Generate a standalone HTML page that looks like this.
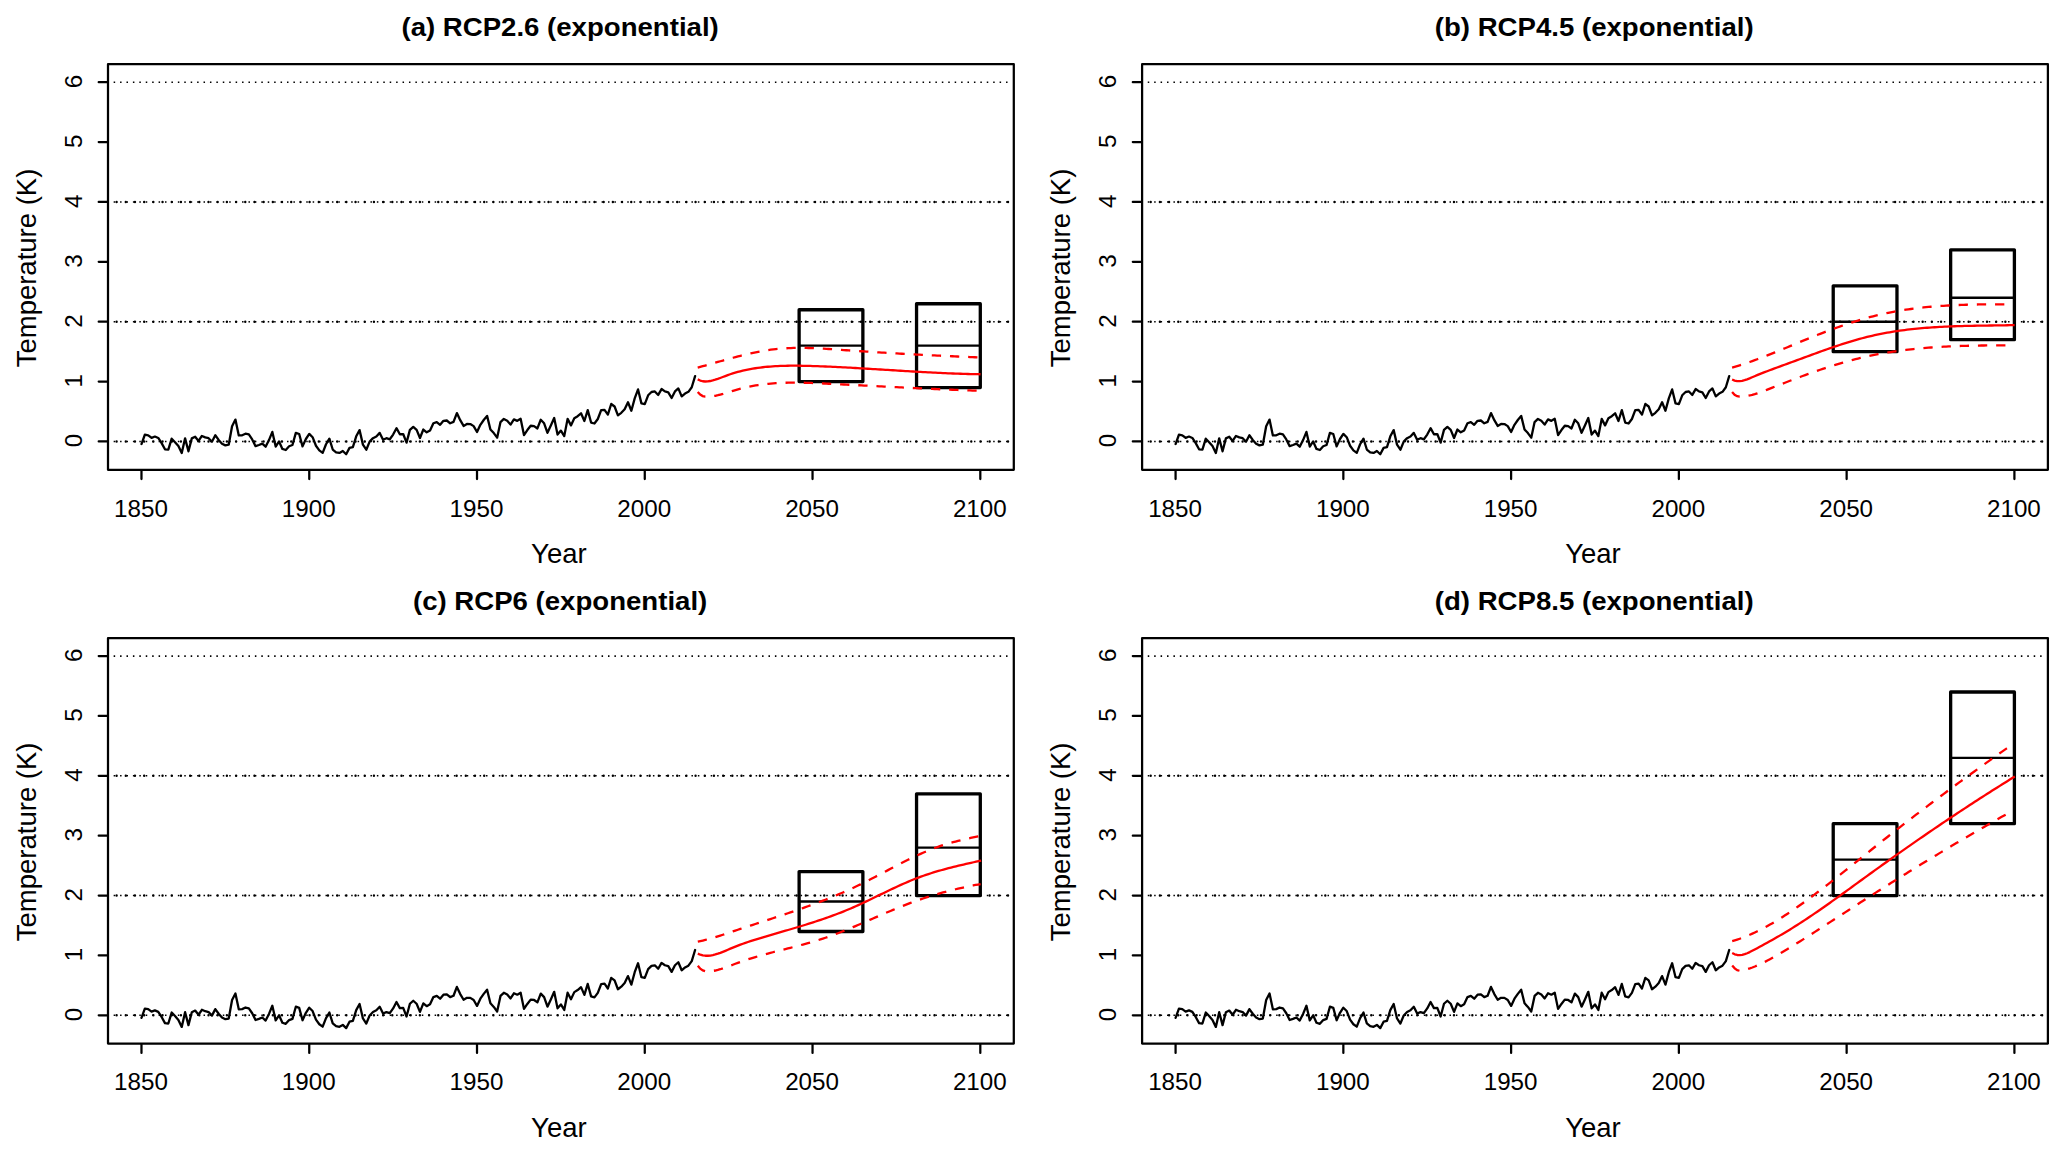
<!DOCTYPE html>
<html><head><meta charset="utf-8"><title>RCP temperature projections</title>
<style>
html,body{margin:0;padding:0;background:#fff}
svg{display:block}
text{font-family:"Liberation Sans",Arial,Helvetica,sans-serif;fill:#000}
.t{font-weight:bold;font-size:27.60px;text-anchor:middle}
.l{font-size:27.50px;text-anchor:middle}
.k{font-size:24.20px;text-anchor:middle}
.ax{stroke:#000;stroke-width:2.25;fill:none;stroke-linecap:round;stroke-linejoin:round}
.ts{stroke:#000;stroke-width:2.3;fill:none;stroke-linecap:round;stroke-linejoin:round}
.d1{stroke:#000;stroke-width:1.6;stroke-dasharray:1.5 4.92;fill:none}
.d2{stroke:#000;stroke-width:2.4;stroke-dasharray:0.01 9.18;stroke-linecap:round;fill:none}
.rc{stroke:#f00;stroke-width:2.3;fill:none;stroke-linecap:butt;stroke-linejoin:round}
.rd{stroke:#f00;stroke-width:2.3;fill:none;stroke-dasharray:9.3 8.9}
.bx{stroke:#000;stroke-width:3.3;fill:none;stroke-linejoin:round}
.bm{stroke:#000;stroke-width:2.4;fill:none}
</style></head><body>
<svg width="2067" height="1155" viewBox="0 0 2067 1155">
<rect width="2067" height="1155" fill="#fff"/>
<g transform="translate(0,0)">
<text class="t" transform="translate(560.10,36.1) scale(1,0.957)">(a) RCP2.6 (exponential)</text>
<text class="l" x="558.90" y="563.1">Year</text>
<text class="l" transform="translate(36.1,267.98) rotate(-90)">Temperature (K)</text>
<text class="k" x="140.98" y="516.6">1850</text>
<text class="k" x="308.75" y="516.6">1900</text>
<text class="k" x="476.51" y="516.6">1950</text>
<text class="k" x="644.27" y="516.6">2000</text>
<text class="k" x="812.04" y="516.6">2050</text>
<text class="k" x="979.81" y="516.6">2100</text>
<text class="k" transform="translate(82.2,440.65) rotate(-90)">0</text>
<text class="k" transform="translate(82.2,380.78) rotate(-90)">1</text>
<text class="k" transform="translate(82.2,320.91) rotate(-90)">2</text>
<text class="k" transform="translate(82.2,261.04) rotate(-90)">3</text>
<text class="k" transform="translate(82.2,201.17) rotate(-90)">4</text>
<text class="k" transform="translate(82.2,141.30) rotate(-90)">5</text>
<text class="k" transform="translate(82.2,81.43) rotate(-90)">6</text>
<path class="ax" d="M141.48,470.35v8.7M309.25,470.35v8.7M477.01,470.35v8.7M644.77,470.35v8.7M812.54,470.35v8.7M980.31,470.35v8.7M107.4,441.45h-8.7M107.4,381.58h-8.7M107.4,321.71h-8.7M107.4,261.84h-8.7M107.4,201.97h-8.7M107.4,142.10h-8.7M107.4,82.23h-8.7"/>
<path class="d1" d="M113.65,441.45H1010.1999999999999"/>
<path class="d1" d="M113.65,321.71H1010.1999999999999"/>
<path class="d1" d="M113.65,201.97H1010.1999999999999"/>
<path class="d1" d="M113.65,82.23H1010.1999999999999"/>
<path class="d2" d="M116.6,441.45H1010.1999999999999"/>
<path class="d2" d="M116.6,321.71H1010.1999999999999"/>
<path class="d2" d="M116.6,201.97H1010.1999999999999"/>
<polyline class="ts" points="141.48,444.02 144.84,434.74 148.19,435.34 151.55,437.80 154.90,436.54 158.26,437.98 161.61,443.13 164.97,449.29 168.32,449.65 171.68,438.70 175.03,442.23 178.39,446.06 181.74,453.06 185.10,438.34 188.45,451.27 191.81,438.40 195.16,436.72 198.52,440.91 201.88,435.94 205.23,437.38 208.59,438.22 211.94,441.75 215.30,435.28 218.65,439.89 222.01,443.73 225.36,445.34 228.72,444.68 232.07,426.18 235.43,419.60 238.78,435.46 242.14,435.28 245.49,433.67 248.85,434.45 252.20,439.41 255.56,446.18 258.92,444.98 262.27,443.67 265.63,446.72 268.98,440.07 272.34,431.93 275.69,446.60 279.05,441.45 282.40,448.93 285.76,450.01 289.11,446.24 292.47,445.04 295.82,432.83 299.18,434.03 302.53,446.36 305.89,439.00 309.25,433.85 312.60,437.20 315.96,445.76 319.31,450.37 322.67,452.83 326.02,444.26 329.38,438.64 332.73,449.53 336.09,452.29 339.44,452.95 342.80,451.03 346.15,454.26 349.51,447.86 352.86,447.08 356.22,436.30 359.57,430.13 362.93,444.62 366.29,449.71 369.64,441.63 373.00,438.16 376.35,436.48 379.71,432.89 383.06,439.77 386.42,438.22 389.77,439.29 393.13,434.56 396.48,428.16 399.84,434.27 403.19,434.03 406.55,442.65 409.90,429.90 413.26,426.90 416.61,429.90 419.97,438.04 423.33,429.54 426.68,432.35 430.04,430.49 433.39,423.25 436.75,422.05 440.10,424.81 443.46,420.85 446.81,420.50 450.17,423.31 453.52,421.93 456.88,413.07 460.23,420.20 463.59,425.94 466.94,423.97 470.30,424.03 473.65,426.12 477.01,432.05 480.37,424.81 483.72,420.02 487.08,415.89 490.43,429.42 493.79,433.07 497.14,437.68 500.50,422.11 503.85,418.94 507.21,420.68 510.56,424.63 513.92,419.42 517.27,420.85 520.63,418.82 523.98,435.04 527.34,430.07 530.69,425.76 534.05,426.12 537.41,428.46 540.76,419.78 544.12,423.31 547.47,432.83 550.83,425.58 554.18,417.98 557.54,434.51 560.89,430.61 564.25,436.12 567.60,418.88 570.96,425.40 574.31,418.28 577.67,416.18 581.02,413.31 584.38,421.03 587.73,410.08 591.09,422.53 594.45,423.49 597.80,419.00 601.16,410.20 604.51,409.84 607.87,414.63 611.22,403.97 614.58,406.49 617.93,415.41 621.29,412.83 624.64,409.24 628.00,402.24 631.35,410.74 634.71,398.34 638.06,389.42 641.42,403.37 644.77,404.09 648.13,395.29 651.49,392.00 654.84,391.46 658.20,394.93 661.55,389.06 664.91,391.40 668.26,392.30 671.62,398.04 674.97,391.40 678.33,388.41 681.68,396.43 685.04,393.55 688.39,391.82 691.75,387.27 695.10,376.19"/>
<rect class="bx" x="799.12" y="309.74" width="63.75" height="71.84"/>
<path class="bm" d="M799.12,345.66H862.87"/>
<rect class="bx" x="916.55" y="303.75" width="63.75" height="83.82"/>
<path class="bm" d="M916.55,345.66H980.31"/>
</g>
<path class="rc" d="M697.70,379.41L700.20,380.57L702.71,381.24L705.21,381.49L707.71,381.39L710.21,381.01L712.72,380.42L715.22,379.69L717.72,378.86L720.22,377.96L722.73,377.02L725.23,376.07L727.73,375.14L730.23,374.25L732.74,373.43L735.24,372.66L737.74,371.94L740.25,371.27L742.75,370.66L745.25,370.09L747.75,369.56L750.26,369.08L752.76,368.64L755.26,368.24L757.76,367.88L760.27,367.55L762.77,367.25L765.27,366.98L767.77,366.74L770.28,366.53L772.78,366.35L775.28,366.19L777.78,366.05L780.29,365.94L782.79,365.86L785.29,365.79L787.80,365.74L790.30,365.71L792.80,365.70L795.30,365.70L797.81,365.72L800.31,365.75L802.81,365.79L805.31,365.84L807.82,365.90L810.32,365.97L812.82,366.05L815.32,366.13L817.83,366.22L820.33,366.31L822.83,366.41L825.34,366.51L827.84,366.61L830.34,366.72L832.84,366.83L835.35,366.95L837.85,367.07L840.35,367.19L842.85,367.32L845.36,367.45L847.86,367.58L850.36,367.72L852.86,367.86L855.37,368.00L857.87,368.14L860.37,368.29L862.88,368.43L865.38,368.58L867.88,368.73L870.38,368.88L872.89,369.03L875.39,369.19L877.89,369.34L880.39,369.49L882.90,369.65L885.40,369.80L887.90,369.96L890.40,370.12L892.91,370.27L895.41,370.43L897.91,370.58L900.42,370.73L902.92,370.89L905.42,371.04L907.92,371.19L910.43,371.34L912.93,371.49L915.43,371.63L917.93,371.78L920.44,371.92L922.94,372.06L925.44,372.19L927.94,372.33L930.45,372.46L932.95,372.59L935.45,372.72L937.95,372.84L940.46,372.96L942.96,373.07L945.46,373.18L947.97,373.29L950.47,373.40L952.97,373.50L955.47,373.59L957.98,373.68L960.48,373.77L962.98,373.85L965.48,373.92L967.99,373.99L970.49,374.06L972.99,374.11L975.49,374.17L978.00,374.21L980.50,374.26"/>
<path class="rd" d="M697.70,367.60L700.22,366.92L702.74,366.22L705.26,365.52L707.78,364.81L710.30,364.10L712.82,363.39L715.34,362.67L717.86,361.96L720.38,361.24L722.91,360.53L725.43,359.83L727.95,359.13L730.47,358.44L732.99,357.76L735.51,357.09L738.03,356.43L740.55,355.79L743.07,355.16L745.59,354.55L748.11,353.96L750.63,353.38L753.15,352.83L755.67,352.31L758.19,351.80L760.71,351.33L763.23,350.88L765.75,350.46L768.28,350.07L770.80,349.71L773.32,349.39L775.84,349.10L778.36,348.85L780.88,348.63L783.40,348.44L785.92,348.28L788.44,348.15L790.96,348.05L793.48,347.97L796.00,347.92L798.52,347.90L801.04,347.90L803.56,347.91L806.08,347.95L808.60,348.01L811.12,348.08L813.64,348.17L816.17,348.28L818.69,348.40L821.21,348.53L823.73,348.67L826.25,348.82L828.77,348.98L831.29,349.15L833.81,349.32L836.33,349.50L838.85,349.68L841.37,349.86L843.89,350.04L846.41,350.23L848.93,350.41L851.45,350.58L853.97,350.76L856.49,350.93L859.01,351.10L861.53,351.27L864.06,351.44L866.58,351.61L869.10,351.77L871.62,351.93L874.14,352.09L876.66,352.25L879.18,352.40L881.70,352.56L884.22,352.71L886.74,352.86L889.26,353.01L891.78,353.16L894.30,353.30L896.82,353.45L899.34,353.59L901.86,353.73L904.38,353.87L906.90,354.01L909.42,354.14L911.95,354.28L914.47,354.41L916.99,354.54L919.51,354.67L922.03,354.80L924.55,354.93L927.07,355.06L929.59,355.18L932.11,355.31L934.63,355.43L937.15,355.55L939.67,355.67L942.19,355.79L944.71,355.91L947.23,356.03L949.75,356.15L952.27,356.26L954.79,356.38L957.32,356.49L959.84,356.60L962.36,356.72L964.88,356.83L967.40,356.94L969.92,357.05L972.44,357.16L974.96,357.26L977.48,357.37L980.00,357.48"/>
<path class="rd" d="M697.70,391.94L700.22,394.62L702.74,396.07L705.26,396.65L707.78,396.70L710.30,396.52L712.82,396.21L715.34,395.77L717.86,395.22L720.38,394.59L722.91,393.90L725.43,393.15L727.95,392.37L730.47,391.58L732.99,390.79L735.51,390.03L738.03,389.30L740.55,388.62L743.07,387.98L745.59,387.39L748.11,386.84L750.63,386.33L753.15,385.86L755.67,385.42L758.19,385.02L760.71,384.66L763.23,384.34L765.75,384.04L768.28,383.78L770.80,383.55L773.32,383.35L775.84,383.17L778.36,383.02L780.88,382.90L783.40,382.80L785.92,382.73L788.44,382.68L790.96,382.64L793.48,382.63L796.00,382.63L798.52,382.65L801.04,382.69L803.56,382.74L806.08,382.81L808.60,382.88L811.12,382.97L813.64,383.06L816.17,383.16L818.69,383.27L821.21,383.39L823.73,383.51L826.25,383.63L828.77,383.75L831.29,383.87L833.81,384.00L836.33,384.12L838.85,384.25L841.37,384.38L843.89,384.50L846.41,384.63L848.93,384.76L851.45,384.89L853.97,385.02L856.49,385.15L859.01,385.27L861.53,385.40L864.06,385.53L866.58,385.66L869.10,385.79L871.62,385.92L874.14,386.05L876.66,386.18L879.18,386.31L881.70,386.44L884.22,386.57L886.74,386.70L889.26,386.83L891.78,386.95L894.30,387.08L896.82,387.21L899.34,387.33L901.86,387.46L904.38,387.58L906.90,387.71L909.42,387.83L911.95,387.95L914.47,388.08L916.99,388.20L919.51,388.32L922.03,388.44L924.55,388.55L927.07,388.67L929.59,388.79L932.11,388.90L934.63,389.01L937.15,389.13L939.67,389.24L942.19,389.35L944.71,389.45L947.23,389.56L949.75,389.66L952.27,389.77L954.79,389.87L957.32,389.97L959.84,390.07L962.36,390.16L964.88,390.26L967.40,390.35L969.92,390.44L972.44,390.53L974.96,390.61L977.48,390.70L980.00,390.78"/>
<g transform="translate(0,0)">
<rect class="ax" x="108.0" y="64.2" width="905.80" height="405.55"/>
</g>
<g transform="translate(1034.1,0)">
<text class="t" transform="translate(560.10,36.1) scale(1,0.957)">(b) RCP4.5 (exponential)</text>
<text class="l" x="558.90" y="563.1">Year</text>
<text class="l" transform="translate(36.1,267.98) rotate(-90)">Temperature (K)</text>
<text class="k" x="140.98" y="516.6">1850</text>
<text class="k" x="308.75" y="516.6">1900</text>
<text class="k" x="476.51" y="516.6">1950</text>
<text class="k" x="644.27" y="516.6">2000</text>
<text class="k" x="812.04" y="516.6">2050</text>
<text class="k" x="979.81" y="516.6">2100</text>
<text class="k" transform="translate(82.2,440.65) rotate(-90)">0</text>
<text class="k" transform="translate(82.2,380.78) rotate(-90)">1</text>
<text class="k" transform="translate(82.2,320.91) rotate(-90)">2</text>
<text class="k" transform="translate(82.2,261.04) rotate(-90)">3</text>
<text class="k" transform="translate(82.2,201.17) rotate(-90)">4</text>
<text class="k" transform="translate(82.2,141.30) rotate(-90)">5</text>
<text class="k" transform="translate(82.2,81.43) rotate(-90)">6</text>
<path class="ax" d="M141.48,470.35v8.7M309.25,470.35v8.7M477.01,470.35v8.7M644.77,470.35v8.7M812.54,470.35v8.7M980.31,470.35v8.7M107.4,441.45h-8.7M107.4,381.58h-8.7M107.4,321.71h-8.7M107.4,261.84h-8.7M107.4,201.97h-8.7M107.4,142.10h-8.7M107.4,82.23h-8.7"/>
<path class="d1" d="M113.65,441.45H1010.1999999999999"/>
<path class="d1" d="M113.65,321.71H1010.1999999999999"/>
<path class="d1" d="M113.65,201.97H1010.1999999999999"/>
<path class="d1" d="M113.65,82.23H1010.1999999999999"/>
<path class="d2" d="M116.6,441.45H1010.1999999999999"/>
<path class="d2" d="M116.6,321.71H1010.1999999999999"/>
<path class="d2" d="M116.6,201.97H1010.1999999999999"/>
<polyline class="ts" points="141.48,444.02 144.84,434.74 148.19,435.34 151.55,437.80 154.90,436.54 158.26,437.98 161.61,443.13 164.97,449.29 168.32,449.65 171.68,438.70 175.03,442.23 178.39,446.06 181.74,453.06 185.10,438.34 188.45,451.27 191.81,438.40 195.16,436.72 198.52,440.91 201.88,435.94 205.23,437.38 208.59,438.22 211.94,441.75 215.30,435.28 218.65,439.89 222.01,443.73 225.36,445.34 228.72,444.68 232.07,426.18 235.43,419.60 238.78,435.46 242.14,435.28 245.49,433.67 248.85,434.45 252.20,439.41 255.56,446.18 258.92,444.98 262.27,443.67 265.63,446.72 268.98,440.07 272.34,431.93 275.69,446.60 279.05,441.45 282.40,448.93 285.76,450.01 289.11,446.24 292.47,445.04 295.82,432.83 299.18,434.03 302.53,446.36 305.89,439.00 309.25,433.85 312.60,437.20 315.96,445.76 319.31,450.37 322.67,452.83 326.02,444.26 329.38,438.64 332.73,449.53 336.09,452.29 339.44,452.95 342.80,451.03 346.15,454.26 349.51,447.86 352.86,447.08 356.22,436.30 359.57,430.13 362.93,444.62 366.29,449.71 369.64,441.63 373.00,438.16 376.35,436.48 379.71,432.89 383.06,439.77 386.42,438.22 389.77,439.29 393.13,434.56 396.48,428.16 399.84,434.27 403.19,434.03 406.55,442.65 409.90,429.90 413.26,426.90 416.61,429.90 419.97,438.04 423.33,429.54 426.68,432.35 430.04,430.49 433.39,423.25 436.75,422.05 440.10,424.81 443.46,420.85 446.81,420.50 450.17,423.31 453.52,421.93 456.88,413.07 460.23,420.20 463.59,425.94 466.94,423.97 470.30,424.03 473.65,426.12 477.01,432.05 480.37,424.81 483.72,420.02 487.08,415.89 490.43,429.42 493.79,433.07 497.14,437.68 500.50,422.11 503.85,418.94 507.21,420.68 510.56,424.63 513.92,419.42 517.27,420.85 520.63,418.82 523.98,435.04 527.34,430.07 530.69,425.76 534.05,426.12 537.41,428.46 540.76,419.78 544.12,423.31 547.47,432.83 550.83,425.58 554.18,417.98 557.54,434.51 560.89,430.61 564.25,436.12 567.60,418.88 570.96,425.40 574.31,418.28 577.67,416.18 581.02,413.31 584.38,421.03 587.73,410.08 591.09,422.53 594.45,423.49 597.80,419.00 601.16,410.20 604.51,409.84 607.87,414.63 611.22,403.97 614.58,406.49 617.93,415.41 621.29,412.83 624.64,409.24 628.00,402.24 631.35,410.74 634.71,398.34 638.06,389.42 641.42,403.37 644.77,404.09 648.13,395.29 651.49,392.00 654.84,391.46 658.20,394.93 661.55,389.06 664.91,391.40 668.26,392.30 671.62,398.04 674.97,391.40 678.33,388.41 681.68,396.43 685.04,393.55 688.39,391.82 691.75,387.27 695.10,376.19"/>
<rect class="bx" x="799.12" y="285.79" width="63.75" height="65.86"/>
<path class="bm" d="M799.12,321.71H862.87"/>
<rect class="bx" x="916.55" y="249.87" width="63.75" height="89.81"/>
<path class="bm" d="M916.55,297.76H980.31"/>
</g>
<path class="rc" d="M1732.10,379.56L1734.60,380.66L1737.10,381.17L1739.60,381.20L1742.10,380.84L1744.60,380.18L1747.10,379.33L1749.60,378.35L1752.10,377.30L1754.60,376.23L1757.10,375.18L1759.60,374.15L1762.10,373.15L1764.60,372.16L1767.10,371.20L1769.60,370.25L1772.10,369.31L1774.60,368.39L1777.10,367.47L1779.60,366.56L1782.10,365.66L1784.60,364.75L1787.10,363.85L1789.60,362.94L1792.10,362.03L1794.60,361.12L1797.10,360.20L1799.60,359.28L1802.10,358.35L1804.60,357.43L1807.10,356.51L1809.60,355.59L1812.10,354.67L1814.60,353.76L1817.10,352.85L1819.60,351.94L1822.10,351.04L1824.60,350.15L1827.10,349.27L1829.60,348.39L1832.10,347.53L1834.60,346.67L1837.10,345.83L1839.60,345.00L1842.10,344.18L1844.60,343.38L1847.10,342.59L1849.60,341.82L1852.10,341.07L1854.60,340.33L1857.10,339.61L1859.60,338.91L1862.10,338.24L1864.60,337.58L1867.10,336.95L1869.60,336.34L1872.10,335.76L1874.60,335.19L1877.10,334.65L1879.60,334.13L1882.10,333.63L1884.60,333.16L1887.10,332.70L1889.60,332.26L1892.10,331.84L1894.60,331.44L1897.10,331.06L1899.60,330.70L1902.10,330.35L1904.60,330.03L1907.10,329.71L1909.60,329.42L1912.10,329.14L1914.60,328.87L1917.10,328.62L1919.60,328.38L1922.10,328.16L1924.60,327.95L1927.10,327.75L1929.60,327.56L1932.10,327.39L1934.60,327.23L1937.10,327.07L1939.60,326.93L1942.10,326.80L1944.60,326.68L1947.10,326.56L1949.60,326.46L1952.10,326.36L1954.60,326.27L1957.10,326.19L1959.60,326.11L1962.10,326.04L1964.60,325.97L1967.10,325.91L1969.60,325.85L1972.10,325.80L1974.60,325.75L1977.10,325.71L1979.60,325.67L1982.10,325.63L1984.60,325.59L1987.10,325.55L1989.60,325.51L1992.10,325.48L1994.60,325.44L1997.10,325.40L1999.60,325.36L2002.10,325.32L2004.60,325.28L2007.10,325.23L2009.60,325.19L2012.10,325.13L2014.60,325.08"/>
<path class="rd" d="M1732.10,367.53L1734.62,366.82L1737.14,366.08L1739.65,365.31L1742.17,364.52L1744.69,363.70L1747.21,362.86L1749.72,361.99L1752.24,361.11L1754.76,360.20L1757.28,359.28L1759.80,358.34L1762.31,357.38L1764.83,356.41L1767.35,355.42L1769.87,354.42L1772.39,353.41L1774.90,352.39L1777.42,351.36L1779.94,350.33L1782.46,349.29L1784.97,348.24L1787.49,347.19L1790.01,346.14L1792.53,345.09L1795.05,344.04L1797.56,342.99L1800.08,341.95L1802.60,340.90L1805.12,339.87L1807.64,338.84L1810.15,337.81L1812.67,336.80L1815.19,335.79L1817.71,334.80L1820.22,333.81L1822.74,332.83L1825.26,331.86L1827.78,330.91L1830.30,329.96L1832.81,329.03L1835.33,328.11L1837.85,327.21L1840.37,326.32L1842.89,325.44L1845.40,324.58L1847.92,323.74L1850.44,322.91L1852.96,322.10L1855.47,321.31L1857.99,320.53L1860.51,319.77L1863.03,319.04L1865.55,318.32L1868.06,317.63L1870.58,316.95L1873.10,316.30L1875.62,315.67L1878.14,315.06L1880.65,314.47L1883.17,313.91L1885.69,313.37L1888.21,312.84L1890.72,312.34L1893.24,311.86L1895.76,311.39L1898.28,310.95L1900.80,310.53L1903.31,310.12L1905.83,309.73L1908.35,309.36L1910.87,309.00L1913.39,308.67L1915.90,308.35L1918.42,308.04L1920.94,307.75L1923.46,307.48L1925.97,307.22L1928.49,306.97L1931.01,306.74L1933.53,306.52L1936.05,306.32L1938.56,306.13L1941.08,305.95L1943.60,305.78L1946.12,305.62L1948.64,305.48L1951.15,305.34L1953.67,305.22L1956.19,305.10L1958.71,305.00L1961.22,304.90L1963.74,304.82L1966.26,304.74L1968.78,304.67L1971.30,304.60L1973.81,304.55L1976.33,304.50L1978.85,304.45L1981.37,304.42L1983.89,304.39L1986.40,304.36L1988.92,304.34L1991.44,304.32L1993.96,304.31L1996.47,304.29L1998.99,304.29L2001.51,304.28L2004.03,304.28L2006.55,304.28L2009.06,304.28L2011.58,304.28L2013.19,304.29"/>
<path class="rd" d="M1732.10,391.92L1734.62,394.72L1737.14,396.17L1739.65,396.67L1742.17,396.64L1744.69,396.39L1747.21,396.01L1749.72,395.50L1752.24,394.89L1754.76,394.17L1757.28,393.37L1759.80,392.51L1762.31,391.59L1764.83,390.63L1767.35,389.64L1769.87,388.64L1772.39,387.65L1774.90,386.65L1777.42,385.66L1779.94,384.67L1782.46,383.69L1784.97,382.71L1787.49,381.74L1790.01,380.77L1792.53,379.81L1795.05,378.85L1797.56,377.91L1800.08,376.97L1802.60,376.03L1805.12,375.11L1807.64,374.20L1810.15,373.29L1812.67,372.40L1815.19,371.52L1817.71,370.64L1820.22,369.78L1822.74,368.93L1825.26,368.10L1827.78,367.28L1830.30,366.47L1832.81,365.67L1835.33,364.89L1837.85,364.12L1840.37,363.37L1842.89,362.64L1845.40,361.92L1847.92,361.22L1850.44,360.53L1852.96,359.87L1855.47,359.22L1857.99,358.59L1860.51,357.98L1863.03,357.39L1865.55,356.82L1868.06,356.27L1870.58,355.73L1873.10,355.21L1875.62,354.71L1878.14,354.23L1880.65,353.76L1883.17,353.31L1885.69,352.88L1888.21,352.46L1890.72,352.06L1893.24,351.67L1895.76,351.30L1898.28,350.94L1900.80,350.60L1903.31,350.27L1905.83,349.95L1908.35,349.65L1910.87,349.36L1913.39,349.09L1915.90,348.82L1918.42,348.57L1920.94,348.34L1923.46,348.11L1925.97,347.90L1928.49,347.69L1931.01,347.50L1933.53,347.32L1936.05,347.15L1938.56,346.99L1941.08,346.84L1943.60,346.69L1946.12,346.56L1948.64,346.44L1951.15,346.32L1953.67,346.22L1956.19,346.12L1958.71,346.03L1961.22,345.95L1963.74,345.87L1966.26,345.80L1968.78,345.74L1971.30,345.68L1973.81,345.63L1976.33,345.59L1978.85,345.55L1981.37,345.51L1983.89,345.48L1986.40,345.46L1988.92,345.44L1991.44,345.42L1993.96,345.41L1996.47,345.40L1998.99,345.40L2001.51,345.39L2004.03,345.39L2006.55,345.39L2009.06,345.40L2011.58,345.40L2014.10,345.41"/>
<g transform="translate(1034.1,0)">
<rect class="ax" x="108.0" y="64.2" width="905.80" height="405.55"/>
</g>
<g transform="translate(0,573.85)">
<text class="t" transform="translate(560.10,36.1) scale(1,0.957)">(c) RCP6 (exponential)</text>
<text class="l" x="558.90" y="563.1">Year</text>
<text class="l" transform="translate(36.1,267.98) rotate(-90)">Temperature (K)</text>
<text class="k" x="140.98" y="516.6">1850</text>
<text class="k" x="308.75" y="516.6">1900</text>
<text class="k" x="476.51" y="516.6">1950</text>
<text class="k" x="644.27" y="516.6">2000</text>
<text class="k" x="812.04" y="516.6">2050</text>
<text class="k" x="979.81" y="516.6">2100</text>
<text class="k" transform="translate(82.2,440.65) rotate(-90)">0</text>
<text class="k" transform="translate(82.2,380.78) rotate(-90)">1</text>
<text class="k" transform="translate(82.2,320.91) rotate(-90)">2</text>
<text class="k" transform="translate(82.2,261.04) rotate(-90)">3</text>
<text class="k" transform="translate(82.2,201.17) rotate(-90)">4</text>
<text class="k" transform="translate(82.2,141.30) rotate(-90)">5</text>
<text class="k" transform="translate(82.2,81.43) rotate(-90)">6</text>
<path class="ax" d="M141.48,470.35v8.7M309.25,470.35v8.7M477.01,470.35v8.7M644.77,470.35v8.7M812.54,470.35v8.7M980.31,470.35v8.7M107.4,441.45h-8.7M107.4,381.58h-8.7M107.4,321.71h-8.7M107.4,261.84h-8.7M107.4,201.97h-8.7M107.4,142.10h-8.7M107.4,82.23h-8.7"/>
<path class="d1" d="M113.65,441.45H1010.1999999999999"/>
<path class="d1" d="M113.65,321.71H1010.1999999999999"/>
<path class="d1" d="M113.65,201.97H1010.1999999999999"/>
<path class="d1" d="M113.65,82.23H1010.1999999999999"/>
<path class="d2" d="M116.6,441.45H1010.1999999999999"/>
<path class="d2" d="M116.6,321.71H1010.1999999999999"/>
<path class="d2" d="M116.6,201.97H1010.1999999999999"/>
<polyline class="ts" points="141.48,444.02 144.84,434.74 148.19,435.34 151.55,437.80 154.90,436.54 158.26,437.98 161.61,443.13 164.97,449.29 168.32,449.65 171.68,438.70 175.03,442.23 178.39,446.06 181.74,453.06 185.10,438.34 188.45,451.27 191.81,438.40 195.16,436.72 198.52,440.91 201.88,435.94 205.23,437.38 208.59,438.22 211.94,441.75 215.30,435.28 218.65,439.89 222.01,443.73 225.36,445.34 228.72,444.68 232.07,426.18 235.43,419.60 238.78,435.46 242.14,435.28 245.49,433.67 248.85,434.45 252.20,439.41 255.56,446.18 258.92,444.98 262.27,443.67 265.63,446.72 268.98,440.07 272.34,431.93 275.69,446.60 279.05,441.45 282.40,448.93 285.76,450.01 289.11,446.24 292.47,445.04 295.82,432.83 299.18,434.03 302.53,446.36 305.89,439.00 309.25,433.85 312.60,437.20 315.96,445.76 319.31,450.37 322.67,452.83 326.02,444.26 329.38,438.64 332.73,449.53 336.09,452.29 339.44,452.95 342.80,451.03 346.15,454.26 349.51,447.86 352.86,447.08 356.22,436.30 359.57,430.13 362.93,444.62 366.29,449.71 369.64,441.63 373.00,438.16 376.35,436.48 379.71,432.89 383.06,439.77 386.42,438.22 389.77,439.29 393.13,434.56 396.48,428.16 399.84,434.27 403.19,434.03 406.55,442.65 409.90,429.90 413.26,426.90 416.61,429.90 419.97,438.04 423.33,429.54 426.68,432.35 430.04,430.49 433.39,423.25 436.75,422.05 440.10,424.81 443.46,420.85 446.81,420.50 450.17,423.31 453.52,421.93 456.88,413.07 460.23,420.20 463.59,425.94 466.94,423.97 470.30,424.03 473.65,426.12 477.01,432.05 480.37,424.81 483.72,420.02 487.08,415.89 490.43,429.42 493.79,433.07 497.14,437.68 500.50,422.11 503.85,418.94 507.21,420.68 510.56,424.63 513.92,419.42 517.27,420.85 520.63,418.82 523.98,435.04 527.34,430.07 530.69,425.76 534.05,426.12 537.41,428.46 540.76,419.78 544.12,423.31 547.47,432.83 550.83,425.58 554.18,417.98 557.54,434.51 560.89,430.61 564.25,436.12 567.60,418.88 570.96,425.40 574.31,418.28 577.67,416.18 581.02,413.31 584.38,421.03 587.73,410.08 591.09,422.53 594.45,423.49 597.80,419.00 601.16,410.20 604.51,409.84 607.87,414.63 611.22,403.97 614.58,406.49 617.93,415.41 621.29,412.83 624.64,409.24 628.00,402.24 631.35,410.74 634.71,398.34 638.06,389.42 641.42,403.37 644.77,404.09 648.13,395.29 651.49,392.00 654.84,391.46 658.20,394.93 661.55,389.06 664.91,391.40 668.26,392.30 671.62,398.04 674.97,391.40 678.33,388.41 681.68,396.43 685.04,393.55 688.39,391.82 691.75,387.27 695.10,376.19"/>
<rect class="bx" x="799.12" y="297.76" width="63.75" height="59.87"/>
<path class="bm" d="M799.12,327.70H862.87"/>
<rect class="bx" x="916.55" y="219.93" width="63.75" height="101.78"/>
<path class="bm" d="M916.55,273.81H980.31"/>
</g>
<path class="rc" d="M697.80,953.63L700.31,954.70L702.81,955.39L705.32,955.73L707.83,955.77L710.34,955.54L712.84,955.10L715.35,954.47L717.86,953.70L720.36,952.82L722.87,951.85L725.38,950.82L727.88,949.76L730.39,948.68L732.90,947.62L735.41,946.59L737.91,945.60L740.42,944.65L742.93,943.73L745.43,942.85L747.94,941.99L750.45,941.16L752.96,940.35L755.46,939.56L757.97,938.79L760.48,938.03L762.98,937.28L765.49,936.54L768.00,935.81L770.51,935.08L773.01,934.35L775.52,933.63L778.03,932.90L780.53,932.18L783.04,931.45L785.55,930.72L788.05,929.99L790.56,929.26L793.07,928.52L795.58,927.77L798.08,927.02L800.59,926.27L803.10,925.50L805.60,924.73L808.11,923.95L810.62,923.15L813.13,922.35L815.63,921.53L818.14,920.71L820.65,919.87L823.15,919.01L825.66,918.14L828.17,917.26L830.68,916.35L833.18,915.43L835.69,914.49L838.20,913.54L840.70,912.56L843.21,911.56L845.72,910.54L848.22,909.50L850.73,908.44L853.24,907.35L855.75,906.24L858.25,905.11L860.76,903.96L863.27,902.79L865.77,901.61L868.28,900.42L870.79,899.22L873.30,898.02L875.80,896.81L878.31,895.59L880.82,894.38L883.32,893.16L885.83,891.95L888.34,890.75L890.85,889.56L893.35,888.37L895.86,887.20L898.37,886.04L900.87,884.90L903.38,883.78L905.89,882.68L908.39,881.61L910.90,880.56L913.41,879.54L915.92,878.55L918.42,877.59L920.93,876.66L923.44,875.76L925.94,874.90L928.45,874.06L930.96,873.25L933.47,872.46L935.97,871.70L938.48,870.96L940.99,870.24L943.49,869.54L946.00,868.86L948.51,868.20L951.02,867.55L953.52,866.92L956.03,866.30L958.54,865.70L961.04,865.10L963.55,864.52L966.06,863.94L968.56,863.37L971.07,862.81L973.58,862.25L976.09,861.69L978.59,861.14L981.10,860.58"/>
<path class="rd" d="M697.80,941.64L700.30,941.11L702.81,940.53L705.31,939.92L707.81,939.26L710.31,938.58L712.82,937.86L715.32,937.12L717.82,936.36L720.32,935.57L722.83,934.77L725.33,933.95L727.83,933.12L730.33,932.29L732.84,931.45L735.34,930.61L737.84,929.77L740.35,928.93L742.85,928.10L745.35,927.27L747.85,926.44L750.36,925.62L752.86,924.79L755.36,923.97L757.86,923.15L760.37,922.33L762.87,921.51L765.37,920.69L767.87,919.87L770.38,919.05L772.88,918.22L775.38,917.40L777.88,916.57L780.39,915.74L782.89,914.91L785.39,914.08L787.90,913.24L790.40,912.39L792.90,911.54L795.40,910.68L797.91,909.82L800.41,908.95L802.91,908.07L805.41,907.18L807.92,906.28L810.42,905.38L812.92,904.46L815.42,903.53L817.93,902.60L820.43,901.65L822.93,900.68L825.44,899.71L827.94,898.72L830.44,897.71L832.94,896.69L835.45,895.66L837.95,894.61L840.45,893.54L842.95,892.46L845.46,891.36L847.96,890.24L850.46,889.10L852.96,887.94L855.47,886.77L857.97,885.57L860.47,884.35L862.98,883.11L865.48,881.86L867.98,880.59L870.48,879.31L872.99,878.01L875.49,876.71L877.99,875.40L880.49,874.08L883.00,872.76L885.50,871.44L888.00,870.12L890.50,868.81L893.01,867.49L895.51,866.19L898.01,864.89L900.52,863.60L903.02,862.32L905.52,861.06L908.02,859.81L910.53,858.58L913.03,857.37L915.53,856.19L918.03,855.02L920.54,853.89L923.04,852.78L925.54,851.70L928.04,850.65L930.55,849.63L933.05,848.65L935.55,847.71L938.05,846.80L940.56,845.94L943.06,845.12L945.56,844.34L948.07,843.60L950.57,842.88L953.07,842.20L955.57,841.54L958.08,840.91L960.58,840.30L963.08,839.70L965.58,839.12L968.09,838.54L970.59,837.97L973.09,837.41L975.59,836.84L978.10,836.27L980.60,835.70"/>
<path class="rd" d="M697.80,965.69L700.30,968.69L702.81,970.39L705.31,971.14L707.81,971.31L710.31,971.22L712.82,970.94L715.32,970.50L717.82,969.92L720.32,969.23L722.83,968.44L725.33,967.58L727.83,966.66L730.33,965.71L732.84,964.74L735.34,963.78L737.84,962.84L740.35,961.94L742.85,961.06L745.35,960.22L747.85,959.39L750.36,958.60L752.86,957.82L755.36,957.07L757.86,956.33L760.37,955.62L762.87,954.92L765.37,954.23L767.87,953.56L770.38,952.89L772.88,952.24L775.38,951.60L777.88,950.96L780.39,950.32L782.89,949.69L785.39,949.06L787.90,948.43L790.40,947.79L792.90,947.15L795.40,946.51L797.91,945.86L800.41,945.20L802.91,944.53L805.41,943.85L807.92,943.15L810.42,942.44L812.92,941.71L815.42,940.96L817.93,940.19L820.43,939.40L822.93,938.59L825.44,937.75L827.94,936.89L830.44,936.00L832.94,935.08L835.45,934.15L837.95,933.20L840.45,932.23L842.95,931.24L845.46,930.23L847.96,929.21L850.46,928.18L852.96,927.13L855.47,926.07L857.97,925.01L860.47,923.94L862.98,922.86L865.48,921.77L867.98,920.68L870.48,919.59L872.99,918.50L875.49,917.41L877.99,916.32L880.49,915.23L883.00,914.15L885.50,913.07L888.00,912.01L890.50,910.95L893.01,909.89L895.51,908.86L898.01,907.83L900.52,906.82L903.02,905.82L905.52,904.84L908.02,903.88L910.53,902.94L913.03,902.01L915.53,901.11L918.03,900.23L920.54,899.37L923.04,898.52L925.54,897.70L928.04,896.89L930.55,896.11L933.05,895.34L935.55,894.59L938.05,893.86L940.56,893.15L943.06,892.45L945.56,891.78L948.07,891.12L950.57,890.48L953.07,889.85L955.57,889.25L958.08,888.65L960.58,888.08L963.08,887.52L965.58,886.98L968.09,886.46L970.59,885.95L973.09,885.46L975.59,884.98L978.10,884.52L980.60,884.07"/>
<g transform="translate(0,573.85)">
<rect class="ax" x="108.0" y="64.2" width="905.80" height="405.55"/>
</g>
<g transform="translate(1034.1,573.85)">
<text class="t" transform="translate(560.10,36.1) scale(1,0.957)">(d) RCP8.5 (exponential)</text>
<text class="l" x="558.90" y="563.1">Year</text>
<text class="l" transform="translate(36.1,267.98) rotate(-90)">Temperature (K)</text>
<text class="k" x="140.98" y="516.6">1850</text>
<text class="k" x="308.75" y="516.6">1900</text>
<text class="k" x="476.51" y="516.6">1950</text>
<text class="k" x="644.27" y="516.6">2000</text>
<text class="k" x="812.04" y="516.6">2050</text>
<text class="k" x="979.81" y="516.6">2100</text>
<text class="k" transform="translate(82.2,440.65) rotate(-90)">0</text>
<text class="k" transform="translate(82.2,380.78) rotate(-90)">1</text>
<text class="k" transform="translate(82.2,320.91) rotate(-90)">2</text>
<text class="k" transform="translate(82.2,261.04) rotate(-90)">3</text>
<text class="k" transform="translate(82.2,201.17) rotate(-90)">4</text>
<text class="k" transform="translate(82.2,141.30) rotate(-90)">5</text>
<text class="k" transform="translate(82.2,81.43) rotate(-90)">6</text>
<path class="ax" d="M141.48,470.35v8.7M309.25,470.35v8.7M477.01,470.35v8.7M644.77,470.35v8.7M812.54,470.35v8.7M980.31,470.35v8.7M107.4,441.45h-8.7M107.4,381.58h-8.7M107.4,321.71h-8.7M107.4,261.84h-8.7M107.4,201.97h-8.7M107.4,142.10h-8.7M107.4,82.23h-8.7"/>
<path class="d1" d="M113.65,441.45H1010.1999999999999"/>
<path class="d1" d="M113.65,321.71H1010.1999999999999"/>
<path class="d1" d="M113.65,201.97H1010.1999999999999"/>
<path class="d1" d="M113.65,82.23H1010.1999999999999"/>
<path class="d2" d="M116.6,441.45H1010.1999999999999"/>
<path class="d2" d="M116.6,321.71H1010.1999999999999"/>
<path class="d2" d="M116.6,201.97H1010.1999999999999"/>
<polyline class="ts" points="141.48,444.02 144.84,434.74 148.19,435.34 151.55,437.80 154.90,436.54 158.26,437.98 161.61,443.13 164.97,449.29 168.32,449.65 171.68,438.70 175.03,442.23 178.39,446.06 181.74,453.06 185.10,438.34 188.45,451.27 191.81,438.40 195.16,436.72 198.52,440.91 201.88,435.94 205.23,437.38 208.59,438.22 211.94,441.75 215.30,435.28 218.65,439.89 222.01,443.73 225.36,445.34 228.72,444.68 232.07,426.18 235.43,419.60 238.78,435.46 242.14,435.28 245.49,433.67 248.85,434.45 252.20,439.41 255.56,446.18 258.92,444.98 262.27,443.67 265.63,446.72 268.98,440.07 272.34,431.93 275.69,446.60 279.05,441.45 282.40,448.93 285.76,450.01 289.11,446.24 292.47,445.04 295.82,432.83 299.18,434.03 302.53,446.36 305.89,439.00 309.25,433.85 312.60,437.20 315.96,445.76 319.31,450.37 322.67,452.83 326.02,444.26 329.38,438.64 332.73,449.53 336.09,452.29 339.44,452.95 342.80,451.03 346.15,454.26 349.51,447.86 352.86,447.08 356.22,436.30 359.57,430.13 362.93,444.62 366.29,449.71 369.64,441.63 373.00,438.16 376.35,436.48 379.71,432.89 383.06,439.77 386.42,438.22 389.77,439.29 393.13,434.56 396.48,428.16 399.84,434.27 403.19,434.03 406.55,442.65 409.90,429.90 413.26,426.90 416.61,429.90 419.97,438.04 423.33,429.54 426.68,432.35 430.04,430.49 433.39,423.25 436.75,422.05 440.10,424.81 443.46,420.85 446.81,420.50 450.17,423.31 453.52,421.93 456.88,413.07 460.23,420.20 463.59,425.94 466.94,423.97 470.30,424.03 473.65,426.12 477.01,432.05 480.37,424.81 483.72,420.02 487.08,415.89 490.43,429.42 493.79,433.07 497.14,437.68 500.50,422.11 503.85,418.94 507.21,420.68 510.56,424.63 513.92,419.42 517.27,420.85 520.63,418.82 523.98,435.04 527.34,430.07 530.69,425.76 534.05,426.12 537.41,428.46 540.76,419.78 544.12,423.31 547.47,432.83 550.83,425.58 554.18,417.98 557.54,434.51 560.89,430.61 564.25,436.12 567.60,418.88 570.96,425.40 574.31,418.28 577.67,416.18 581.02,413.31 584.38,421.03 587.73,410.08 591.09,422.53 594.45,423.49 597.80,419.00 601.16,410.20 604.51,409.84 607.87,414.63 611.22,403.97 614.58,406.49 617.93,415.41 621.29,412.83 624.64,409.24 628.00,402.24 631.35,410.74 634.71,398.34 638.06,389.42 641.42,403.37 644.77,404.09 648.13,395.29 651.49,392.00 654.84,391.46 658.20,394.93 661.55,389.06 664.91,391.40 668.26,392.30 671.62,398.04 674.97,391.40 678.33,388.41 681.68,396.43 685.04,393.55 688.39,391.82 691.75,387.27 695.10,376.19"/>
<rect class="bx" x="799.12" y="249.87" width="63.75" height="71.84"/>
<path class="bm" d="M799.12,285.79H862.87"/>
<rect class="bx" x="916.55" y="118.15" width="63.75" height="131.71"/>
<path class="bm" d="M916.55,184.01H980.31"/>
</g>
<path class="rc" d="M1732.20,953.07L1734.70,954.32L1737.20,954.98L1739.70,955.13L1742.20,954.83L1744.70,954.18L1747.21,953.24L1749.71,952.09L1752.21,950.81L1754.71,949.48L1757.21,948.14L1759.71,946.79L1762.21,945.44L1764.71,944.07L1767.21,942.70L1769.71,941.31L1772.21,939.91L1774.72,938.50L1777.22,937.07L1779.72,935.62L1782.22,934.16L1784.72,932.68L1787.22,931.18L1789.72,929.65L1792.22,928.11L1794.72,926.54L1797.22,924.96L1799.72,923.36L1802.22,921.74L1804.73,920.10L1807.23,918.45L1809.73,916.78L1812.23,915.09L1814.73,913.39L1817.23,911.68L1819.73,909.96L1822.23,908.22L1824.73,906.48L1827.23,904.72L1829.73,902.95L1832.24,901.18L1834.74,899.40L1837.24,897.61L1839.74,895.81L1842.24,894.01L1844.74,892.20L1847.24,890.39L1849.74,888.57L1852.24,886.76L1854.74,884.94L1857.24,883.12L1859.75,881.30L1862.25,879.48L1864.75,877.66L1867.25,875.85L1869.75,874.03L1872.25,872.22L1874.75,870.42L1877.25,868.61L1879.75,866.82L1882.25,865.02L1884.75,863.24L1887.25,861.45L1889.76,859.67L1892.26,857.90L1894.76,856.12L1897.26,854.36L1899.76,852.59L1902.26,850.84L1904.76,849.08L1907.26,847.33L1909.76,845.59L1912.26,843.85L1914.76,842.11L1917.27,840.38L1919.77,838.65L1922.27,836.93L1924.77,835.21L1927.27,833.50L1929.77,831.79L1932.27,830.08L1934.77,828.38L1937.27,826.69L1939.77,825.00L1942.27,823.31L1944.78,821.63L1947.28,819.95L1949.78,818.28L1952.28,816.62L1954.78,814.95L1957.28,813.29L1959.78,811.64L1962.28,809.99L1964.78,808.35L1967.28,806.71L1969.78,805.08L1972.28,803.45L1974.79,801.82L1977.29,800.20L1979.79,798.59L1982.29,796.98L1984.79,795.37L1987.29,793.77L1989.79,792.18L1992.29,790.59L1994.79,789.00L1997.29,787.42L1999.79,785.85L2002.30,784.28L2004.80,782.71L2007.30,781.15L2009.80,779.60L2012.30,778.05L2014.80,776.50"/>
<path class="rd" d="M1732.20,941.13L1734.72,940.39L1737.24,939.59L1739.76,938.73L1742.28,937.82L1744.79,936.86L1747.31,935.84L1749.83,934.78L1752.35,933.66L1754.87,932.50L1757.39,931.29L1759.91,930.03L1762.42,928.74L1764.94,927.40L1767.46,926.02L1769.98,924.60L1772.50,923.14L1775.02,921.65L1777.54,920.12L1780.06,918.55L1782.58,916.96L1785.09,915.33L1787.61,913.68L1790.13,911.99L1792.65,910.28L1795.17,908.55L1797.69,906.79L1800.21,905.00L1802.72,903.20L1805.24,901.38L1807.76,899.54L1810.28,897.68L1812.80,895.80L1815.32,893.91L1817.84,892.01L1820.36,890.10L1822.88,888.17L1825.39,886.24L1827.91,884.29L1830.43,882.33L1832.95,880.37L1835.47,878.39L1837.99,876.41L1840.51,874.43L1843.03,872.43L1845.54,870.43L1848.06,868.43L1850.58,866.42L1853.10,864.40L1855.62,862.39L1858.14,860.37L1860.66,858.35L1863.17,856.33L1865.69,854.31L1868.21,852.29L1870.73,850.27L1873.25,848.26L1875.77,846.24L1878.29,844.23L1880.81,842.23L1883.33,840.22L1885.84,838.23L1888.36,836.23L1890.88,834.25L1893.40,832.27L1895.92,830.30L1898.44,828.33L1900.96,826.37L1903.47,824.41L1905.99,822.46L1908.51,820.52L1911.03,818.58L1913.55,816.64L1916.07,814.71L1918.59,812.79L1921.11,810.87L1923.62,808.96L1926.14,807.05L1928.66,805.15L1931.18,803.25L1933.70,801.36L1936.22,799.47L1938.74,797.59L1941.26,795.71L1943.78,793.84L1946.29,791.97L1948.81,790.11L1951.33,788.25L1953.85,786.39L1956.37,784.54L1958.89,782.69L1961.41,780.85L1963.92,779.01L1966.44,777.18L1968.96,775.35L1971.48,773.52L1974.00,771.70L1976.52,769.88L1979.04,768.06L1981.56,766.25L1984.08,764.45L1986.59,762.64L1989.11,760.84L1991.63,759.04L1994.15,757.25L1996.67,755.46L1999.19,753.67L2001.71,751.89L2004.22,750.11L2006.74,748.33L2009.26,746.55L2011.78,744.78L2014.17,743.10"/>
<path class="rd" d="M1732.20,965.39L1734.72,968.34L1737.24,970.23L1739.76,970.82L1742.28,970.48L1744.79,969.86L1747.31,969.16L1749.83,968.35L1752.35,967.46L1754.87,966.49L1757.39,965.44L1759.91,964.32L1762.42,963.14L1764.94,961.89L1767.46,960.59L1769.98,959.25L1772.50,957.86L1775.02,956.43L1777.54,954.98L1780.06,953.49L1782.58,951.99L1785.09,950.47L1787.61,948.95L1790.13,947.41L1792.65,945.86L1795.17,944.31L1797.69,942.75L1800.21,941.18L1802.72,939.60L1805.24,938.02L1807.76,936.43L1810.28,934.83L1812.80,933.23L1815.32,931.62L1817.84,930.01L1820.36,928.40L1822.88,926.78L1825.39,925.16L1827.91,923.53L1830.43,921.90L1832.95,920.27L1835.47,918.64L1837.99,917.01L1840.51,915.38L1843.03,913.74L1845.54,912.11L1848.06,910.48L1850.58,908.84L1853.10,907.21L1855.62,905.58L1858.14,903.95L1860.66,902.33L1863.17,900.71L1865.69,899.09L1868.21,897.47L1870.73,895.86L1873.25,894.25L1875.77,892.65L1878.29,891.04L1880.81,889.45L1883.33,887.85L1885.84,886.26L1888.36,884.67L1890.88,883.09L1893.40,881.50L1895.92,879.93L1898.44,878.35L1900.96,876.78L1903.47,875.21L1905.99,873.65L1908.51,872.09L1911.03,870.53L1913.55,868.98L1916.07,867.43L1918.59,865.88L1921.11,864.34L1923.62,862.80L1926.14,861.26L1928.66,859.73L1931.18,858.20L1933.70,856.67L1936.22,855.15L1938.74,853.63L1941.26,852.12L1943.78,850.61L1946.29,849.10L1948.81,847.60L1951.33,846.10L1953.85,844.60L1956.37,843.11L1958.89,841.62L1961.41,840.13L1963.92,838.65L1966.44,837.17L1968.96,835.69L1971.48,834.22L1974.00,832.76L1976.52,831.29L1979.04,829.83L1981.56,828.37L1984.08,826.92L1986.59,825.47L1989.11,824.03L1991.63,822.59L1994.15,821.15L1996.67,819.71L1999.19,818.28L2001.71,816.86L2004.22,815.43L2006.74,814.01L2009.26,812.60L2011.78,811.19L2013.37,810.30"/>
<g transform="translate(1034.1,573.85)">
<rect class="ax" x="108.0" y="64.2" width="905.80" height="405.55"/>
</g>
</svg>
</body></html>
